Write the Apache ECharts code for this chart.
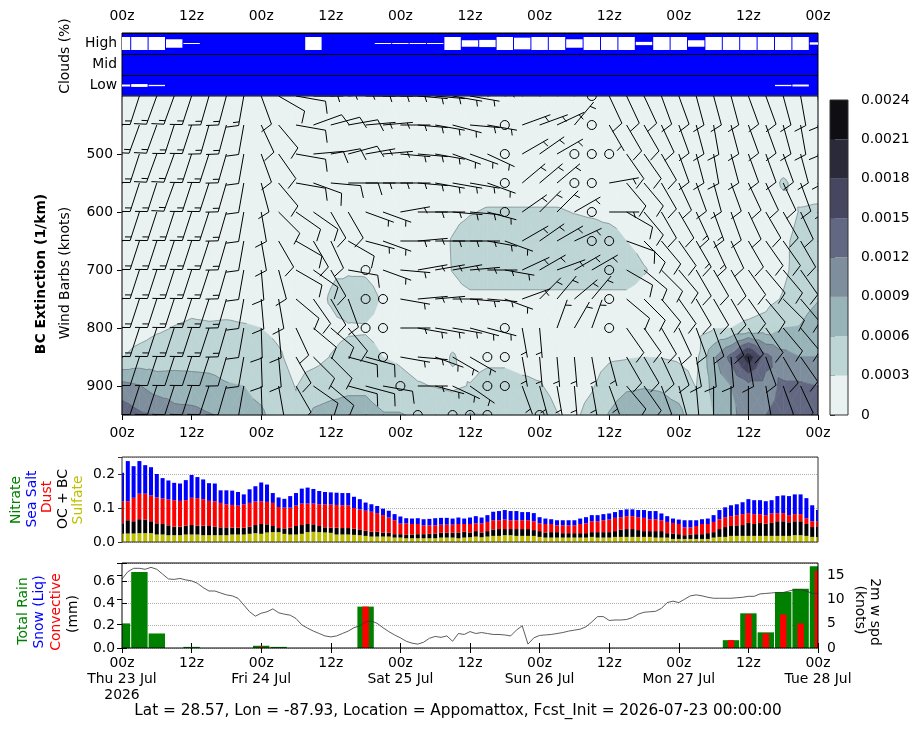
<!DOCTYPE html>
<html>
<head>
<meta charset="utf-8">
<script src="https://cdn.jsdelivr.net/npm/echarts/dist/echarts.min.js"></script>
<style>
html,body{margin:0;padding:0;background:#fff}
#main{width:918px;height:730px}
</style>
</head>
<body>
<div id="main"></div>
<script>
// ---- data ----
// pressure levels of the cross-section (hPa), columns every 3 h from 00z Thu
const levels = [400, 450, 500, 550, 600, 650, 700, 750, 800, 850, 900, 950];
const dayLabels = ['Thu 23 Jul\n2026', 'Fri 24 Jul', 'Sat 25 Jul', 'Sun 26 Jul', 'Mon 27 Jul', 'Tue 28 Jul'];

// BC extinction, units of 1e-4 km^-1, one row per level, 41 columns (3-hourly)
const bcExt = [
  [1,1,1,1,1,1,1,1,1,1,1,1,1,1,1,1,1,1,1,1,1,1,1,1,1,1,1,1,1,1,1,1,1,1,1,1,1,1,1,1,1],
  [1,1,1,1,1,1,1,1,1,1,1,1,1,1,1,1,1,1,1,1,1,1,1,1,1,1,1,1,1,1,1,1,1,1,1,1,1,1,1,1,1],
  [1.2,1.2,1.2,1.2,1.2,1.2,1.2,1.2,1.2,1.2,1.2,1.2,1.2,1.2,1.2,1.2,1.2,1.2,1.2,1.2,1.2,1.2,1.2,1.2,1.2,1.2,1.2,1.2,1.2,1.2,1.2,1.2,1.2,1.2,1.2,1.2,1.2,1.2,1.2,1.2,1.2],
  [1.5,1.5,1.5,1.5,1.5,1.5,1.5,1.5,1.5,1.5,1.5,1.5,1.5,1.5,1.5,1.5,1.5,1.5,1.5,1.5,1.5,1.5,1.5,1.5,1.5,1.5,1.5,1.5,1.5,1.5,1.5,1.5,1.5,1.5,1.5,1.5,1.5,1.5,3.4,2.0,2.0],
  [1.5,1.5,1.5,1.5,1.5,1.5,1.5,1.5,1.5,1.5,1.5,1.5,1.5,1.5,1.5,1.5,1.5,1.5,1.5,2.2,2.8,3.3,3.3,3.3,3.3,3.3,2.9,2.6,2.0,1.5,1.5,1.5,1.5,1.5,1.5,1.5,1.5,1.5,1.8,3.2,3.4],
  [1.5,1.5,1.5,1.5,1.5,1.5,1.5,1.5,1.5,1.5,1.5,1.5,1.5,1.5,1.5,1.5,1.5,1.5,1.8,3.2,4.5,4.5,4.5,4.5,4.5,4.5,4.5,4.5,4.5,3.0,2.0,1.5,1.5,1.5,1.5,1.5,1.5,1.5,2.5,3.8,4.0],
  [1.6,1.6,1.6,1.6,1.6,1.6,1.6,1.6,1.6,1.6,1.6,1.6,2.5,2.5,2.5,1.6,1.6,1.6,1.8,3.1,4.5,4.5,4.5,4.5,4.5,4.5,4.5,4.5,4.5,4.5,3.2,2.2,1.6,1.6,1.6,1.6,1.6,1.6,2.5,4.0,4.5],
  [1.5,1.5,1.6,1.8,2.2,2.0,2.0,2.0,2.0,1.8,1.8,1.8,3.3,5.0,4.5,2.6,1.8,1.8,1.8,1.9,2.3,2.3,2.3,2.3,2.3,2.3,2.3,2.3,2.3,2.3,2.0,1.8,1.8,1.8,1.8,1.8,1.8,2.2,3.2,4.5,5.8],
  [1.5,1.8,2.6,3.1,3.4,3.3,3.4,3.2,3.0,2.5,2.0,2.0,2.2,2.6,2.7,2.2,2.0,2.0,2.0,2.0,2.0,2.0,2.0,2.0,2.0,2.0,2.0,2.0,2.0,2.0,2.0,2.0,2.0,2.0,2.8,3.0,3.5,4.0,6.0,6.2,8.0],
  [2.9,4.0,4.5,4.7,5.0,5.0,4.8,4.5,4.0,3.3,2.2,2.0,3.1,4.0,4.0,3.0,2.6,2.0,2.0,3.2,2.2,2.4,2.4,2.0,2.0,1.8,1.8,2.0,2.6,2.8,3.0,2.9,2.6,2.2,8.5,13,20,13,10,9,9],
  [10,9.2,7.5,7.5,7.0,6.8,6.2,6.0,5.0,4.0,2.9,4.5,5.0,5.5,5.5,4.5,3.8,3.2,2.9,2.6,3.1,4.0,4.0,3.6,3.2,2.2,2.0,2.7,4.5,5.5,5.8,5.6,4.5,2.9,7.0,9.0,11,11,12.5,12.5,12],
  [14,12.5,12,10,10,9.2,8.5,7.0,6.5,4.5,3.5,6.5,7.0,7.0,7.0,6.2,6.2,5.5,5.0,4.5,6.2,6.0,5.5,5.0,4.5,3.1,2.5,4.0,6.2,8.0,8.0,7.5,7.0,3.5,6.0,8.0,11,12,12.5,12.5,12]
];
const bcLevels = [0, 3, 6, 9, 12, 15, 18, 21, 24];
const bcColors = ['#e9f1f1', '#bed5d5', '#99b4b9', '#7e8e9d', '#626881', '#464661', '#2a2a3a', '#0e0e13'];

// wind direction (deg, from) and speed (kt), same grid as bcExt
const windDir = [
  [198,198,200,200,198,196,195,190,160,120,100, 90,85,85,90,90,90,95,95,100,100, 80,75,70,70,60,50, 0, 155, 155,155,160,160,165,165,165,160,160,165,170,175],
  [198,200,200,198,198,196,195,190,155,140,100, 70,75,80,85,85,90,95,100,105,95, 100,0,70,70,65,40, 0, 150, 150,150,155,160,165,170,165,160,160,165,170,175],
  [198,198,200,200,198,198,196,190,160,145,100, 85,80,75,80,85,95,95,100,110,110, 115,0,60,55,60,0, 0, 0, 145,145,150,160,165,170,165,160,160,160,165,170],
  [198,198,198,200,198,198,196,190,165,140,100, 110,95,90,90,90,90,95,100,100,100, 110,0,50,50,50,0, 0, 80, 140,140,150,155,160,165,160,155,155,155,160,165],
  [198,198,198,198,198,198,196,190,170,135,125, 125,150,150,110,110,80,90,90,95,95, 105,0,55,45,45,60, 0, 90, 120,140,150,150,155,160,160,155,150,150,155,160],
  [198,198,198,198,198,198,196,190,170,150,120, 150,155,120,105,110,90,85,90,90,90, 100,110,60,55,60,65, 0, 0, 110,135,140,145,150,155,155,150,145,145,150,155],
  [198,198,198,198,198,198,196,190,175,165,120, 125,150,100,0,110,95,80,80,80,85, 90,100,65,60,70,60, 60, 0, 120,130,135,140,150,150,150,145,140,140,145,150],
  [198,198,198,198,198,198,196,190,175,170,130, 145,150,160,0,0,100,85,85,90,95, 95,110,70,45,40,50, 40, 0, 130,135,140,145,150,150,150,145,140,135,140,145],
  [198,198,198,198,198,198,196,190,178,175,155, 130,130,140,0,0,90,100,100,100,105, 105,0,170,175,20,30, 20, 0, 145,145,150,155,160,160,155,150,145,140,140,140],
  [198,198,198,198,198,198,196,190,178,175,150, 135,135,105,105,0,100,95,110,120,120, 0,0,170,175,175,175, 170, 165, 150,150,155,160,170,175,175,170,160,150,145,140],
  [198,198,198,198,198,198,196,190,178,170,150, 125,130,105,105,100,0,90,105,115,125, 0,0,160,165,170,175, 170, 160, 140,145,160,165,175,180,180,180,170,160,155,150],
  [198,198,198,198,198,198,196,190,175,165,150, 130,130,115,110,110,120,0,120,0,0, 0,140,150,0,165,170, 170, 155, 130,140,160,170,175,180,180,175,170,165,160,155]
];
const windSpd = [
  [15,15,15,15,15,15,15,15,10,10,10, 5,5,5,5,5,5,5,5,5,5, 5,5,5,5,5,5, 0, 10, 10,10,10,10,10,10,10,10,10,10,10,10],
  [15,15,15,15,15,15,15,10,10,10,10, 10,10,10,5,5,5,5,5,5,5, 5,0,5,5,5,5, 0, 5, 10,10,10,10,10,10,10,10,10,10,10,10],
  [15,15,15,15,15,15,15,10,10,10,10, 10,10,10,5,5,5,5,5,5,5, 5,0,5,5,5,0, 0, 0, 10,10,10,10,10,10,10,10,10,10,10,10],
  [15,15,15,15,15,15,15,10,10,10,10, 10,10,10,5,5,5,5,5,5,5, 5,0,5,5,5,0, 0, 5, 10,10,10,10,10,10,10,10,10,10,10,10],
  [15,15,15,15,15,15,15,10,10,10,10, 10,10,10,5,5,5,5,5,5,5, 5,0,5,5,5,5, 0, 5, 10,10,10,10,15,15,10,10,10,10,10,10],
  [15,15,15,15,15,15,15,10,10,10,10, 10,10,10,5,5,5,5,5,5,5, 5,5,5,5,5,5, 0, 0, 10,10,10,10,15,15,10,10,10,10,10,10],
  [15,15,15,15,15,15,15,10,10,10,10, 10,10,10,0,5,5,5,5,5,5, 5,5,5,5,5,5, 5, 0, 10,10,10,10,10,10,10,10,10,10,10,10],
  [15,15,15,15,15,15,15,10,10,10,10, 10,10,10,0,0,5,5,5,5,5, 5,5,5,5,5,5, 5, 0, 10,10,10,10,10,10,10,10,10,10,10,10],
  [10,15,15,15,15,15,15,10,10,10,10, 10,10,10,0,0,5,5,5,5,5, 5,0,5,5,5,5, 5, 0, 10,10,10,10,10,10,10,10,10,10,10,10],
  [10,10,10,10,10,10,10,10,10,10,10, 10,10,10,10,0,5,5,5,5,5, 0,0,5,5,5,5, 5, 5, 10,10,10,10,10,10,10,10,10,10,10,10],
  [10,10,10,10,10,10,10,10,10,10,10, 10,10,10,10,10,0,5,5,5,5, 0,0,5,5,5,5, 5, 5, 10,10,10,10,10,10,10,10,10,10,10,10],
  [10,10,10,10,10,10,10,10,10,10,10, 10,10,10,10,10,10,0,5,0,0, 0,5,5,0,5,5, 5, 5, 10,10,10,10,10,10,10,10,10,10,10,10]
];

// cloud cover (%), 3-hourly
const cloudHigh = [100,100,100,65,8,0,0,0,0,0,0,100,0,0,0,8,8,8,8,100,50,55,100,90,100,100,65,100,100,100,25,100,100,50,100,100,100,100,100,100,18];
const cloudMid  = [0,0,0,0,0,0,0,0,0,0,0,0,0,0,0,0,0,0,0,0,0,0,0,0,0,0,0,0,0,0,0,0,0,0,0,0,0,0,0,0,0];
const cloudLow  = [15,22,10,0,0,0,0,0,0,0,0,0,0,0,0,0,0,0,0,0,0,0,0,0,0,0,0,0,0,0,0,0,0,0,0,0,0,0,10,15,0];

// precipitation (mm), 3-hourly
const totalRain = [0.22,0.68,0.13,0,0.01,0,0,0,0.02,0.01,0,0,0,0,0.37,0,0,0,0,0,0,0,0,0,0,0,0,0,0,0,0,0,0,0,0,0.07,0.31,0.14,0.50,0.53,0.73];
const convRain  = [0,0,0,0,0,0,0,0,0.01,0,0,0,0,0,0.37,0,0,0,0,0,0,0,0,0,0,0,0,0,0,0,0,0,0,0,0,0.07,0.30,0.13,0.30,0.22,0.69];

// aerosol optical depth components, hourly
const sulfate = [0.024,0.025,0.025,0.026,0.026,0.026,0.022,0.022,0.020,0.020,
  0.020,0.022,0.022,0.022,0.020,0.020,0.020,0.020,0.020,0.022,
  0.022,0.022,0.024,0.026,0.024,0.028,0.029,0.029,0.024,0.022,
  0.022,0.024,0.029,0.030,0.029,0.028,0.027,0.022,0.022,0.022,
  0.021,0.020,0.018,0.016,0.016,0.016,0.016,0.013,0.013,0.011,
  0.011,0.011,0.011,0.011,0.011,0.013,0.013,0.013,0.011,0.013,
  0.014,0.016,0.014,0.016,0.018,0.018,0.020,0.020,0.018,0.018,
  0.018,0.018,0.015,0.013,0.013,0.013,0.013,0.013,0.013,0.013,
  0.013,0.015,0.013,0.013,0.013,0.015,0.015,0.015,0.015,0.015,
  0.015,0.015,0.013,0.013,0.013,0.009,0.009,0.009,0.009,0.009,
  0.009,0.009,0.013,0.015,0.015,0.018,0.018,0.018,0.018,0.018,
  0.018,0.018,0.018,0.018,0.018,0.018,0.020,0.020,0.018,0.015,0.015];
const ocbc = [0.031,0.039,0.036,0.041,0.040,0.035,0.033,0.031,0.029,0.025,
  0.025,0.026,0.028,0.026,0.028,0.027,0.025,0.023,0.023,0.020,
  0.020,0.020,0.021,0.024,0.029,0.024,0.018,0.012,0.016,0.020,
  0.025,0.026,0.024,0.022,0.018,0.015,0.015,0.020,0.019,0.019,
  0.018,0.017,0.015,0.014,0.014,0.011,0.011,0.010,0.010,0.010,
  0.011,0.012,0.012,0.013,0.014,0.014,0.014,0.014,0.017,0.017,
  0.014,0.016,0.014,0.016,0.019,0.020,0.018,0.018,0.020,0.020,
  0.020,0.017,0.017,0.015,0.016,0.016,0.013,0.013,0.013,0.013,
  0.013,0.014,0.016,0.016,0.016,0.017,0.021,0.023,0.023,0.020,
  0.017,0.017,0.019,0.019,0.013,0.016,0.014,0.011,0.013,0.014,
  0.014,0.017,0.016,0.023,0.029,0.029,0.031,0.032,0.038,0.035,
  0.038,0.036,0.038,0.043,0.043,0.040,0.041,0.041,0.035,0.029,0.029];
const dust = [0.065,0.056,0.069,0.075,0.076,0.076,0.076,0.075,0.076,0.078,
  0.076,0.075,0.080,0.081,0.078,0.074,0.075,0.072,0.068,0.067,
  0.065,0.069,0.070,0.069,0.067,0.066,0.068,0.062,0.061,0.059,
  0.060,0.063,0.060,0.061,0.064,0.068,0.068,0.067,0.067,0.067,
  0.061,0.059,0.059,0.059,0.055,0.052,0.045,0.041,0.031,0.034,
  0.031,0.030,0.026,0.025,0.024,0.024,0.024,0.024,0.025,0.023,
  0.025,0.023,0.027,0.027,0.027,0.026,0.028,0.026,0.026,0.026,
  0.026,0.026,0.023,0.025,0.024,0.020,0.023,0.023,0.023,0.027,
  0.029,0.032,0.032,0.035,0.037,0.039,0.037,0.038,0.038,0.038,
  0.039,0.035,0.035,0.032,0.033,0.031,0.030,0.023,0.021,0.024,
  0.030,0.027,0.030,0.029,0.029,0.029,0.030,0.032,0.029,0.029,
  0.026,0.025,0.028,0.024,0.024,0.021,0.021,0.021,0.017,0.017,0.017];
const seaSalt = [0.084,0.118,0.093,0.096,0.084,0.083,0.069,0.060,0.056,0.051,
  0.051,0.059,0.067,0.062,0.058,0.052,0.052,0.037,0.041,0.042,
  0.040,0.029,0.040,0.045,0.055,0.051,0.029,0.028,0.026,0.034,
  0.037,0.044,0.047,0.043,0.039,0.036,0.036,0.036,0.036,0.036,
  0.033,0.030,0.024,0.022,0.021,0.019,0.020,0.018,0.021,0.015,
  0.016,0.017,0.018,0.019,0.021,0.020,0.020,0.018,0.019,0.016,
  0.019,0.021,0.017,0.020,0.025,0.027,0.028,0.027,0.027,0.024,
  0.024,0.024,0.018,0.016,0.014,0.015,0.015,0.015,0.015,0.016,
  0.018,0.018,0.018,0.018,0.018,0.017,0.021,0.020,0.020,0.021,
  0.023,0.024,0.024,0.020,0.017,0.013,0.013,0.021,0.021,0.017,
  0.014,0.016,0.020,0.027,0.029,0.032,0.032,0.035,0.041,0.041,
  0.041,0.041,0.039,0.050,0.052,0.056,0.058,0.058,0.059,0.047,0.033];

// 2 m wind speed (kt), hourly
const wind2m = [14.3,15.8,16.5,16.5,16.3,16.7,16.3,15.3,14.3,14.2,
  14.4,14.1,13.9,13.4,12.5,11.8,11.8,11.4,11.0,10.8,
  10.3,8.9,7.5,6.6,7.2,7.5,8.1,7.3,7.0,6.8,
  6.1,4.8,4.1,3.5,3.0,2.5,2.3,2.5,3.0,3.5,
  4.2,4.6,5.4,5.6,5.1,4.2,3.4,2.7,2.1,1.4,
  1.0,0.8,1.2,2.0,2.4,2.2,2.5,1.4,3.0,2.8,
  3.4,3.0,3.2,3.0,2.8,2.8,2.7,2.5,3.7,4.6,
  0.8,2.1,2.6,2.7,2.8,3.0,3.2,3.5,3.7,3.9,
  4.4,5.4,6.5,6.5,5.7,5.8,5.8,5.9,6.3,7.0,
  7.4,7.5,7.6,8.2,9.4,9.7,9.4,10.1,10.8,11.0,
  10.8,10.5,10.3,10.3,10.3,10.3,10.4,10.5,10.7,10.7,
  11.2,11.3,11.4,11.5,11.5,11.8,12.1,12.1,11.8,11.3,11.3];

// ---- helpers ----
const FONT = 'DejaVu Sans';
const FS = 13.9;
const lab = { fontFamily: FONT, fontSize: FS, color: '#000' };
const STEP = 3; // hours between cross-section columns

function hourLabel(v) { return v % 24 === 0 ? '00z' : '12z'; }
function dateLabel(v) { return v % 24 === 0 ? '00z\n' + dayLabels[v / 24] : '12z'; }
function onStep(v, step) { return Math.abs(v / step - Math.round(v / step)) < 1e-6; }

function clipRect(params) {
  const c = params.coordSys;
  return { type: 'rect', shape: { x: c.x, y: c.y, width: c.width, height: c.height } };
}

function clipPoly(poly, lev, keepAbove) {
  const out = [];
  for (let i = 0; i < poly.length; i++) {
    const a = poly[i], b = poly[(i + 1) % poly.length];
    const ain = keepAbove ? a[2] >= lev : a[2] <= lev;
    const bin = keepAbove ? b[2] >= lev : b[2] <= lev;
    if (ain) out.push(a);
    if (ain !== bin) {
      const t = (lev - a[2]) / (b[2] - a[2]);
      out.push([a[0] + t * (b[0] - a[0]), a[1] + t * (b[1] - a[1]), lev]);
    }
  }
  return out;
}

function cellTriangles(api) {
  const A = api.coord([api.value(0), api.value(1)]);
  const B = api.coord([api.value(2), api.value(1)]);
  const C = api.coord([api.value(2), api.value(3)]);
  const D = api.coord([api.value(0), api.value(3)]);
  const pa = [A[0], A[1], api.value(4)], pb = [B[0], B[1], api.value(5)];
  const pd = [D[0], D[1], api.value(6)], pc = [C[0], C[1], api.value(7)];
  const pm = [(A[0] + B[0] + C[0] + D[0]) / 4, (A[1] + B[1] + C[1] + D[1]) / 4, (pa[2] + pb[2] + pc[2] + pd[2]) / 4];
  return [[pa, pb, pm], [pb, pc, pm], [pc, pd, pm], [pd, pa, pm]];
}

function renderContour(params, api) {
  const kids = [];
  cellTriangles(api).forEach(function (tri) {
    const vs = tri.map(q => q[2]);
    const vmin = Math.min.apply(null, vs), vmax = Math.max.apply(null, vs);
    for (let i = 0; i < bcColors.length; i++) {
      const lo = bcLevels[i], hi = bcLevels[i + 1];
      if (i > 0 && vmax < lo) continue;
      if (i < bcColors.length - 1 && vmin >= hi) continue;
      let poly = tri;
      if (i > 0) poly = clipPoly(poly, lo, true);
      if (i < bcColors.length - 1 && poly.length) poly = clipPoly(poly, hi, false);
      if (poly.length >= 3) {
        kids.push({ type: 'polygon', shape: { points: poly.map(q => [q[0], q[1]]) },
          style: { fill: bcColors[i], stroke: bcColors[i], lineWidth: 0.6 } });
      }
    }
  });
  return { type: 'group', children: kids, silent: true };
}

function renderContourLines(params, api) {
  const kids = [];
  cellTriangles(api).forEach(function (tri) {
    for (let l = 1; l < bcLevels.length - 1; l++) {
      const lev = bcLevels[l];
      const pts = [];
      for (let e = 0; e < 3; e++) {
        const a = tri[e], b = tri[(e + 1) % 3];
        if ((a[2] - lev) * (b[2] - lev) < 0) {
          const t = (lev - a[2]) / (b[2] - a[2]);
          pts.push([a[0] + t * (b[0] - a[0]), a[1] + t * (b[1] - a[1])]);
        }
      }
      if (pts.length === 2) {
        kids.push({ type: 'line', shape: { x1: pts[0][0], y1: pts[0][1], x2: pts[1][0], y2: pts[1][1] },
          style: { stroke: 'rgba(70,80,90,0.55)', lineWidth: 0.8 } });
      }
    }
  });
  return { type: 'group', children: kids, silent: true };
}

function renderBarb(params, api) {
  const pt = api.coord([api.value(0), api.value(1)]);
  const dir = api.value(2), spd = api.value(3);
  const L = 30, H = 0.4 * L, W = 0.25 * L, sp = 0.125 * L;
  const st = { stroke: '#000', lineWidth: 1, fill: 'none' };
  if (spd < 2.5) {
    return { type: 'circle', shape: { cx: pt[0], cy: pt[1], r: 0.15 * L }, style: st, clipPath: clipRect(params) };
  }
  const th = dir * Math.PI / 180;
  const sx = Math.sin(th), sy = -Math.cos(th);  // staff, toward the source
  const bx = Math.cos(th), by = Math.sin(th);   // feathers
  const n5 = Math.round(spd / 5);
  const full = Math.floor(n5 / 2), half = n5 % 2;
  const kids = [{ type: 'line', shape: { x1: pt[0], y1: pt[1], x2: pt[0] + sx * L, y2: pt[1] + sy * L }, style: st }];
  let off = L;
  for (let i = 0; i < full; i++) {
    const ax = pt[0] + sx * off, ay = pt[1] + sy * off;
    kids.push({ type: 'line', shape: { x1: ax, y1: ay, x2: ax + bx * H + sx * W / 2, y2: ay + by * H + sy * W / 2 }, style: st });
    off -= sp;
  }
  if (half) {
    if (full === 0) off -= 1.5 * sp;
    const ax = pt[0] + sx * off, ay = pt[1] + sy * off;
    kids.push({ type: 'line', shape: { x1: ax, y1: ay, x2: ax + bx * H / 2 + sx * W / 4, y2: ay + by * H / 2 + sy * W / 4 }, style: st });
  }
  return { type: 'group', children: kids, clipPath: clipRect(params) };
}

function renderCloud(params, api) {
  const c = api.coord([api.value(0), api.value(1)]);
  const sz = api.size([STEP, 1]);
  const h = api.value(2) / 100 * 0.62 * sz[1];
  if (h <= 0) return null;
  return { type: 'rect', shape: { x: c[0] - sz[0] / 2 + 0.5, y: c[1] - h / 2, width: sz[0] - 1, height: h },
    style: { fill: '#fff' }, clipPath: clipRect(params) };
}

function renderPrecip(params, api) {
  const x = api.value(0), tot = api.value(1), conv = api.value(2);
  const base = api.coord([x, 0]);
  const w = api.size([STEP, 0])[0];
  const kids = [];
  if (tot > 0) {
    const t = api.coord([x, tot]);
    kids.push({ type: 'rect', shape: { x: base[0] - w / 2 + 0.5, y: t[1], width: w - 1, height: base[1] - t[1] }, style: { fill: '#008000' } });
  }
  if (conv > 0) {
    const t = api.coord([x, conv]);
    kids.push({ type: 'rect', shape: { x: base[0] - 3.25, y: t[1], width: 6.5, height: base[1] - t[1] }, style: { fill: '#ff0000' } });
  }
  return { type: 'group', children: kids, clipPath: clipRect(params) };
}

const aerosolColors = ['#bfbf00', '#000000', '#ff0000', '#0000ff'];
function renderAerosol(params, api) {
  const x = api.value(0);
  let cum = 0;
  const kids = [];
  for (let j = 0; j < 4; j++) {
    const v = api.value(j + 1);
    const p0 = api.coord([x, cum]), p1 = api.coord([x, cum + v]);
    kids.push({ type: 'rect', shape: { x: p0[0] - 2, y: p1[1], width: 4, height: p0[1] - p1[1] }, style: { fill: aerosolColors[j] } });
    cum += v;
  }
  return { type: 'group', children: kids, clipPath: clipRect(params) };
}

function renderColorbar(params, api) {
  const p0 = api.coord([0, api.value(1)]), p1 = api.coord([1, api.value(2)]);
  return { type: 'rect', shape: { x: p0[0], y: p1[1], width: p1[0] - p0[0], height: p0[1] - p1[1] },
    style: { fill: bcColors[api.value(3)] } };
}

// ---- build series data ----
const cellData = [];
for (let r = 0; r < levels.length - 1; r++) {
  for (let k = 0; k < bcExt[r].length - 1; k++) {
    cellData.push([k * STEP, levels[r], (k + 1) * STEP, levels[r + 1],
      bcExt[r][k], bcExt[r][k + 1], bcExt[r + 1][k], bcExt[r + 1][k + 1]]);
  }
}
const barbData = [];
levels.forEach(function (p, r) {
  windDir[r].forEach(function (d, k) { barbData.push([k * STEP, p, d, windSpd[r][k]]); });
});
const cloudData = [];
[cloudLow, cloudMid, cloudHigh].forEach(function (arr, idx) {
  arr.forEach(function (v, k) { cloudData.push([k * STEP, idx, v]); });
});
const precipData = totalRain.map((v, k) => [k * STEP, v, convRain[k]]);
const aerosolData = sulfate.map((v, h) => [h, v, ocbc[h], dust[h], seaSalt[h]]);
const windLineData = wind2m.map((v, h) => [h, v]);
const colorbarData = bcColors.map((c, i) => [0.5, bcLevels[i], bcLevels[i + 1], i]);

const timeAxis = { type: 'value', min: 0, max: 120, interval: 12, splitLine: { show: false }, axisLine: { show: false } };

const option = {
  animation: false,
  backgroundColor: '#fff',
  grid: [
    { left: 122, top: 33, width: 696, height: 63, show: true, backgroundColor: '#0000ff', borderColor: '#000', borderWidth: 1 },
    { left: 122, top: 96, width: 696, height: 319, show: true, backgroundColor: 'transparent', borderColor: '#000', borderWidth: 1, z: 10 },
    { left: 830, top: 100, width: 18, height: 315, show: true, backgroundColor: 'transparent', borderColor: '#333', borderWidth: 1, z: 10 },
    { left: 122, top: 457, width: 696, height: 85, show: true, backgroundColor: 'transparent', borderColor: '#333', borderWidth: 1, z: 10 },
    { left: 122, top: 563, width: 696, height: 85, show: true, backgroundColor: 'transparent', borderColor: '#000', borderWidth: 1, z: 10 }
  ],
  xAxis: [
    Object.assign({}, timeAxis, { gridIndex: 0, position: 'top', axisTick: { show: false },
      axisLabel: Object.assign({}, lab, { margin: 10, formatter: hourLabel, showMinLabel: true, showMaxLabel: true }) }),
    Object.assign({}, timeAxis, { gridIndex: 1, position: 'bottom', axisTick: { show: true, length: 5, lineStyle: { color: '#000' } },
      axisLabel: Object.assign({}, lab, { margin: 11, formatter: hourLabel, showMinLabel: true, showMaxLabel: true }) }),
    { gridIndex: 2, type: 'value', min: 0, max: 1, show: false },
    Object.assign({}, timeAxis, { gridIndex: 3, axisTick: { show: false }, axisLabel: { show: false } }),
    Object.assign({}, timeAxis, { gridIndex: 4, position: 'bottom', axisTick: { show: true, inside: true, length: 5, lineStyle: { color: '#000' } },
      axisLabel: Object.assign({}, lab, { margin: 7, lineHeight: 16, formatter: dateLabel, showMinLabel: true, showMaxLabel: true }) }),
    Object.assign({}, timeAxis, { gridIndex: 4, position: 'top', axisTick: { show: true, inside: true, length: 5, lineStyle: { color: '#000' } },
      axisLabel: { show: false } })
  ],
  yAxis: [
    { gridIndex: 0, type: 'category', data: ['Low', 'Mid', 'High'], z: 1,
      axisLine: { show: false }, axisTick: { show: false },
      splitLine: { show: true, interval: 0, lineStyle: { color: '#000', width: 1 } },
      axisLabel: Object.assign({}, lab, { margin: 5 }) },
    { gridIndex: 1, type: 'value', inverse: true, min: 400, max: 950, interval: 100,
      axisLine: { show: false }, splitLine: { show: false },
      axisTick: { show: true, length: 5, lineStyle: { color: '#000' }, customValues: [500, 600, 700, 800, 900] },
      axisLabel: Object.assign({}, lab, { margin: 9, customValues: [500, 600, 700, 800, 900],
        formatter: v => (v >= 500 && v <= 900 ? String(v) : '') }) },
    { gridIndex: 2, type: 'value', position: 'right', min: 0, max: 24, interval: 3,
      axisLine: { show: false }, splitLine: { show: false },
      axisTick: { show: true, length: 5, lineStyle: { color: '#333' } },
      axisLabel: Object.assign({}, lab, { margin: 13, formatter: v => (v === 0 ? '0' : (v / 1e4).toFixed(4)) }) },
    { gridIndex: 3, type: 'value', min: 0, max: 0.25, interval: 0.1,
      axisLine: { show: false },
      axisTick: { show: true, length: 4, lineStyle: { color: '#333' } },
      splitLine: { show: true, lineStyle: { color: '#b0b0b0', type: 'dotted', width: 1 } },
      axisLabel: Object.assign({}, lab, { margin: 7, formatter: v => (onStep(v, 0.1) ? v.toFixed(1) : '') }) },
    { gridIndex: 4, type: 'value', min: 0, max: 0.76, interval: 0.2,
      axisLine: { show: false },
      axisTick: { show: true, inside: true, length: 5, lineStyle: { color: '#000' } },
      splitLine: { show: true, lineStyle: { color: '#b0b0b0', type: 'dotted', width: 1 } },
      axisLabel: Object.assign({}, lab, { margin: 7, formatter: v => (onStep(v, 0.2) ? v.toFixed(1) : '') }) },
    { gridIndex: 4, type: 'value', position: 'right', min: 0, max: 17.6, interval: 5,
      axisLine: { show: false }, splitLine: { show: false },
      axisTick: { show: true, inside: true, length: 5, lineStyle: { color: '#000' } },
      axisLabel: Object.assign({}, lab, { margin: 9, formatter: v => (onStep(v, 5) ? String(v) : '') }) }
  ],
  series: [
    { type: 'custom', name: 'clouds', xAxisIndex: 0, yAxisIndex: 0, renderItem: renderCloud, data: cloudData, z: 3, encode: { x: 0, y: 1 } },
    { type: 'custom', name: 'BC extinction', xAxisIndex: 1, yAxisIndex: 1, renderItem: renderContour, data: cellData, z: 1, encode: { x: 0, y: 1 } },
    { type: 'custom', name: 'BC contours', xAxisIndex: 1, yAxisIndex: 1, renderItem: renderContourLines, data: cellData, z: 2, encode: { x: 0, y: 1 } },
    { type: 'custom', name: 'wind barbs', xAxisIndex: 1, yAxisIndex: 1, renderItem: renderBarb, data: barbData, z: 4, clip: true, encode: { x: 0, y: 1 } },
    { type: 'custom', name: 'colorbar', xAxisIndex: 2, yAxisIndex: 2, renderItem: renderColorbar, data: colorbarData, z: 2, encode: { x: 0, y: 1 } },
    { type: 'custom', name: 'aerosol', xAxisIndex: 3, yAxisIndex: 3, renderItem: renderAerosol, data: aerosolData, z: 3, encode: { x: 0, y: 1 } },
    { type: 'custom', name: 'precip', xAxisIndex: 4, yAxisIndex: 4, renderItem: renderPrecip, data: precipData, z: 3, encode: { x: 0, y: 1 } },
    { type: 'line', name: '2m w spd', xAxisIndex: 4, yAxisIndex: 5, data: windLineData, showSymbol: false, symbol: 'none',
      lineStyle: { color: '#333', width: 0.8 }, z: 5 }
  ],
  graphic: [
    { type: 'text', x: 65, y: 56, rotation: Math.PI / 2, style: { text: 'Clouds (%)', font: FS + 'px "DejaVu Sans"', fill: '#000', textAlign: 'center', textVerticalAlign: 'middle' } },
    { type: 'text', x: 41, y: 274, rotation: Math.PI / 2, style: { text: 'BC Extinction (1/km)', font: 'bold ' + FS + 'px "DejaVu Sans"', fill: '#000', textAlign: 'center', textVerticalAlign: 'middle' } },
    { type: 'text', x: 65, y: 273, rotation: Math.PI / 2, style: { text: 'Wind Barbs (knots)', font: FS + 'px "DejaVu Sans"', fill: '#000', textAlign: 'center', textVerticalAlign: 'middle' } },
    { type: 'text', x: 16.5, y: 500, rotation: Math.PI / 2, style: { text: 'Nitrate', font: FS + 'px "DejaVu Sans"', fill: '#008000', textAlign: 'center', textVerticalAlign: 'middle' } },
    { type: 'text', x: 32, y: 499, rotation: Math.PI / 2, style: { text: 'Sea Salt', font: FS + 'px "DejaVu Sans"', fill: '#0000ff', textAlign: 'center', textVerticalAlign: 'middle' } },
    { type: 'text', x: 47.5, y: 497, rotation: Math.PI / 2, style: { text: 'Dust', font: FS + 'px "DejaVu Sans"', fill: '#ff0000', textAlign: 'center', textVerticalAlign: 'middle' } },
    { type: 'text', x: 63, y: 499, rotation: Math.PI / 2, style: { text: 'OC + BC', font: FS + 'px "DejaVu Sans"', fill: '#000', textAlign: 'center', textVerticalAlign: 'middle' } },
    { type: 'text', x: 78.5, y: 500, rotation: Math.PI / 2, style: { text: 'Sulfate', font: FS + 'px "DejaVu Sans"', fill: '#bfbf00', textAlign: 'center', textVerticalAlign: 'middle' } },
    { type: 'text', x: 23.5, y: 611, rotation: Math.PI / 2, style: { text: 'Total Rain', font: FS + 'px "DejaVu Sans"', fill: '#008000', textAlign: 'center', textVerticalAlign: 'middle' } },
    { type: 'text', x: 39.5, y: 612, rotation: Math.PI / 2, style: { text: 'Snow (Liq)', font: FS + 'px "DejaVu Sans"', fill: '#0000ff', textAlign: 'center', textVerticalAlign: 'middle' } },
    { type: 'text', x: 56, y: 612, rotation: Math.PI / 2, style: { text: 'Convective', font: FS + 'px "DejaVu Sans"', fill: '#ff0000', textAlign: 'center', textVerticalAlign: 'middle' } },
    { type: 'text', x: 73.5, y: 614, rotation: Math.PI / 2, style: { text: '(mm)', font: FS + 'px "DejaVu Sans"', fill: '#000', textAlign: 'center', textVerticalAlign: 'middle' } },
    { type: 'text', x: 875, y: 612, rotation: -Math.PI / 2, style: { text: '2m w spd', font: FS + 'px "DejaVu Sans"', fill: '#000', textAlign: 'center', textVerticalAlign: 'middle' } },
    { type: 'text', x: 860, y: 610, rotation: -Math.PI / 2, style: { text: '(knots)', font: FS + 'px "DejaVu Sans"', fill: '#000', textAlign: 'center', textVerticalAlign: 'middle' } },
    { type: 'text', x: 458, y: 711, style: { text: 'Lat = 28.57, Lon = -87.93, Location = Appomattox, Fcst_Init = 2026-07-23 00:00:00', font: '15.3px "DejaVu Sans"', fill: '#000', textAlign: 'center', textVerticalAlign: 'middle' } }
  ]
};

const chart = echarts.init(document.getElementById('main'), null, { renderer: 'canvas', width: 918, height: 730 });
chart.setOption(option);
</script>
</body>
</html>
